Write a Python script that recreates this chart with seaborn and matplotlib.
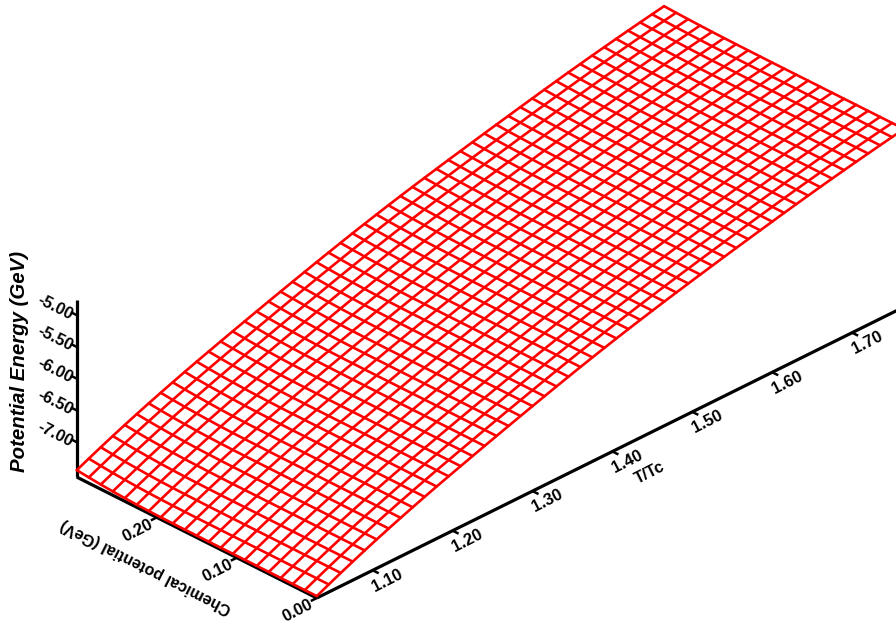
import numpy as np
import pandas as pd
import seaborn as sns
from matplotlib import pyplot as plt

# grid nodes of the surface
T_grid = [1.030, 1.045, 1.060, 1.075, 1.090, 1.105, 1.120, 1.135, 1.150, 1.165,
          1.180, 1.195, 1.210, 1.225, 1.240, 1.255, 1.270, 1.285, 1.300, 1.315,
          1.330, 1.345, 1.360, 1.375, 1.390, 1.405, 1.420, 1.435, 1.450, 1.465,
          1.480, 1.495, 1.510, 1.525, 1.540, 1.555, 1.570, 1.585, 1.600, 1.615,
          1.630, 1.645, 1.660, 1.675, 1.690, 1.705, 1.720, 1.735, 1.750, 1.765]
mu_grid = [0.000, 0.015, 0.030, 0.045, 0.060, 0.075, 0.090, 0.105, 0.120, 0.135, 0.150,
           0.165, 0.180, 0.195, 0.210, 0.225, 0.240, 0.255, 0.270, 0.285, 0.300]

# energy along the mu = 0 edge
energy_mu0 = [-7.520, -7.430, -7.3425, -7.2575, -7.175, -7.095, -7.0175, -6.9425, -6.8695, -6.7985,
              -6.7295, -6.6625, -6.596, -6.530, -6.465, -6.401, -6.337, -6.274, -6.212, -6.150,
              -6.089, -6.029, -5.970, -5.912, -5.856, -5.801, -5.747, -5.695, -5.644, -5.594,
              -5.545, -5.497, -5.450, -5.403, -5.357, -5.311, -5.266, -5.221, -5.177, -5.133,
              -5.090, -5.048, -5.007, -4.967, -4.928, -4.890, -4.853, -4.817, -4.782, -4.748]
# how much higher the mu = 0.30 edge sits at each T
energy_lift = [0.080, 0.078, 0.076, 0.074, 0.072, 0.070, 0.068, 0.066, 0.064, 0.063,
               0.062, 0.061, 0.060, 0.059, 0.058, 0.057, 0.056, 0.055, 0.054, 0.053,
               0.052, 0.051, 0.050, 0.049, 0.048, 0.047, 0.046, 0.045, 0.044, 0.043,
               0.042, 0.041, 0.040, 0.039, 0.038, 0.037, 0.036, 0.036, 0.035, 0.035,
               0.034, 0.034, 0.033, 0.033, 0.032, 0.032, 0.031, 0.031, 0.030, 0.030]
# share of that lift reached at each mu
lift_share = [0, 0, 0, 0, 0, 0, 0, 0, 0, 0, 0, 0, 0.02, 0.04, 0.08, 0.14, 0.24, 0.38, 0.54, 0.75, 1]

T_ticks = [1.10, 1.20, 1.30, 1.40, 1.50, 1.60, 1.70]
mu_ticks = [0.00, 0.10, 0.20]
z_ticks = [-5.00, -5.50, -6.00, -6.50, -7.00]

T_min, T_end = 1.03, 1.78
mu_max = 0.30
z_base, z_top = -7.55, -4.76


def project(T, mu, z):
    # oblique view, result in picture pixels
    T, mu, z = np.asarray(T), np.asarray(mu), np.asarray(z)
    px = 316.8 + 799 * (T - T_min) - 800 * mu
    py = 598 - 396 * (T - T_min) - 403 * mu - 63.5 * (z - z_base)
    return px, py


sns.set_theme(style="white")
plt.rcParams['font.family'] = ['Liberation Sans', 'DejaVu Sans']
plt.rcParams['font.weight'] = 'bold'

energy = np.add.outer(energy_mu0, np.zeros(len(mu_grid))) + np.outer(energy_lift, lift_share)
TT, MM = np.meshgrid(T_grid, mu_grid, indexing='ij')
mesh_x, mesh_y = project(TT, MM, energy)
mesh = pd.DataFrame({
    'x': mesh_x.ravel(), 'y': mesh_y.ravel(),
    'T': TT.ravel(), 'mu': MM.ravel(),
})

fig = plt.figure(figsize=(8.96, 6.26), dpi=100)
ax = fig.add_axes([0, 0, 1, 1])
ax.set_xlim(0, 896)
ax.set_ylim(626, 0)
ax.axis('off')

# axes of the box
axis_kw = dict(color='black', lw=2.3, solid_capstyle='butt', zorder=1)
ax.plot(*project([T_min, T_end], [0, 0], [z_base, z_base]), **axis_kw)
ax.plot(*project([T_min, T_min], [0, mu_max], [z_base, z_base]), **axis_kw)
ax.plot(*project([T_min, T_min], [mu_max, mu_max], [z_base, z_top]), **axis_kw)

tick_kw = dict(color='black', lw=1.8, solid_capstyle='butt', zorder=1)
label_kw = dict(ha='center', va='center', rotation_mode='anchor', color='black', fontweight='bold')

for t in T_ticks:
    px, py = project(t, 0, z_base)
    ax.plot([px, px + 6], [py, py + 3], **tick_kw)
    ax.text(px + 15, py + 10, f"{t:.2f}", rotation=27, fontsize=12, **label_kw)
for m in mu_ticks:
    px, py = project(T_min, m, z_base)
    ax.plot([px, px - 6], [py, py + 3], **tick_kw)
    ax.text(px - 19, py + 13, f"{m:.2f}", rotation=27, fontsize=12, **label_kw)
for z in z_ticks:
    px, py = project(T_min, mu_max, z)
    ax.plot([px, px - 6], [py, py - 3], **tick_kw)
    ax.text(px - 22, py - 8, f"{z:.2f}", rotation=-27, fontsize=12, **label_kw)

# the wire mesh, one line per grid value
for key in ['T', 'mu']:
    sns.lineplot(data=mesh, x='x', y='y', units=key, estimator=None, sort=False,
                 color='#ff0000', lw=1.9, legend=False, ax=ax, zorder=3)
ax.set_xlim(0, 896)
ax.set_ylim(626, 0)
ax.axis('off')

ax.text(650, 473, "T/Tc", rotation=27, fontsize=11.5, **label_kw)
ax.text(146, 567, "Chemical potential (GeV)", rotation=153, fontsize=11.5, **label_kw)
ax.text(20, 362, "Potential Energy (GeV)", rotation=90, fontsize=14.7, fontstyle='italic', **label_kw)

fig.savefig("out.png", dpi=100)
